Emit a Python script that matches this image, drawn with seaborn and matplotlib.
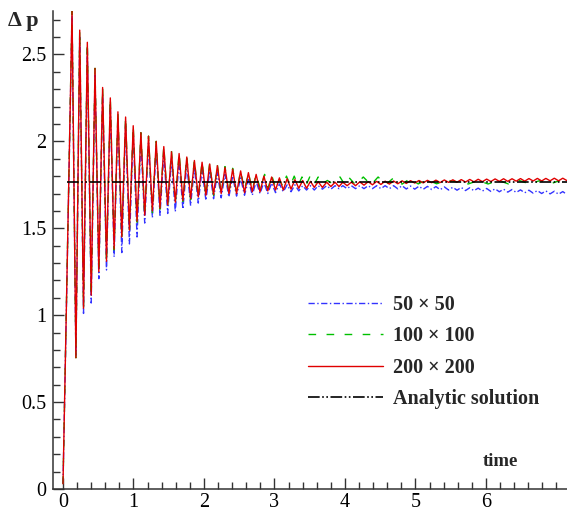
import numpy as np
import pandas as pd
import matplotlib
matplotlib.use("Agg")
import matplotlib.pyplot as plt
import seaborn as sns
from matplotlib.ticker import MultipleLocator

# ---------------- data ----------------
start_t = 0.0
start_v = 0.03

peak_t = [0.128, 0.237, 0.345, 0.454, 0.562, 0.671, 0.779, 0.888, 0.996, 1.105,
          1.213, 1.322, 1.430, 1.539, 1.647, 1.756, 1.864, 1.973, 2.081, 2.190,
          2.298, 2.407,
          2.520, 2.630, 2.740, 2.850, 2.960, 3.070, 3.180, 3.290, 3.400, 3.510, 3.620,
          3.740, 3.860, 3.970, 4.090, 4.210, 4.330, 4.450, 4.570, 4.690, 4.810,
          4.930, 5.050, 5.170, 5.290, 5.410, 5.530, 5.650, 5.770, 5.890, 6.010,
          6.130, 6.250, 6.370, 6.490, 6.610, 6.730, 6.850, 6.970, 7.090]
trough_t = [0.183, 0.291, 0.400, 0.508, 0.617, 0.725, 0.834, 0.942, 1.050, 1.159,
            1.268, 1.376, 1.485, 1.593, 1.701, 1.810, 1.919, 2.027, 2.136, 2.244,
            2.353, 2.462,
            2.575, 2.685, 2.795, 2.905, 3.015, 3.125, 3.235, 3.345, 3.455, 3.565, 3.680,
            3.800, 3.915, 4.030, 4.150, 4.270, 4.390, 4.510, 4.630, 4.750, 4.870,
            4.990, 5.110, 5.230, 5.350, 5.470, 5.590, 5.710, 5.830, 5.950, 6.070,
            6.190, 6.310, 6.430, 6.550, 6.670, 6.790, 6.910, 7.030, 7.150]

# 200 x 200
red_peak = [2.75, 2.64, 2.57, 2.42, 2.31, 2.25, 2.17, 2.14, 2.09, 2.05,
            2.03, 2.00, 1.97, 1.94, 1.93, 1.91, 1.89, 1.88, 1.87, 1.86,
            1.85, 1.84,
            1.83, 1.82, 1.81, 1.80, 1.795, 1.79, 1.785, 1.78, 1.775, 1.77, 1.768,
            1.765, 1.765, 1.765, 1.765, 1.767, 1.768, 1.770, 1.771, 1.772, 1.773,
            1.774, 1.775, 1.776, 1.777, 1.778, 1.779, 1.780, 1.781, 1.782, 1.783,
            1.784, 1.785, 1.785, 1.786, 1.786, 1.787, 1.787, 1.788, 1.788]
red_trough = [0.755, 1.04, 1.115, 1.25, 1.31, 1.38, 1.45, 1.49, 1.54, 1.575,
              1.60, 1.615, 1.635, 1.65, 1.66, 1.67, 1.68, 1.69, 1.695, 1.70,
              1.70, 1.70,
              1.705, 1.71, 1.71, 1.715, 1.72, 1.72, 1.725, 1.73, 1.73, 1.735, 1.735,
              1.74, 1.74, 1.745, 1.745, 1.748, 1.75, 1.752, 1.754, 1.756, 1.758,
              1.76, 1.761, 1.762, 1.763, 1.764, 1.765, 1.766, 1.767, 1.768, 1.769,
              1.77, 1.77, 1.771, 1.771, 1.772, 1.772, 1.773, 1.773, 1.774]

# 50 x 50
blue_peak = [2.72, 2.60, 2.53, 2.38, 2.27, 2.21, 2.13, 2.10, 2.05, 2.01,
             1.99, 1.96, 1.93, 1.90, 1.89, 1.87, 1.85, 1.84, 1.83, 1.82,
             1.81, 1.80,
             1.79, 1.78, 1.77, 1.765, 1.76, 1.755, 1.75, 1.75, 1.745, 1.745, 1.745,
             1.745, 1.745, 1.745, 1.745, 1.745, 1.745, 1.745, 1.745, 1.745, 1.745,
             1.743, 1.742, 1.741, 1.740, 1.738, 1.736, 1.735, 1.733, 1.731,
             1.729, 1.727, 1.725, 1.723, 1.721, 1.719, 1.717, 1.715, 1.713, 1.711]
blue_trough = [0.76, 1.01, 1.07, 1.21, 1.26, 1.335, 1.36, 1.41, 1.45, 1.53,
               1.56, 1.575, 1.585, 1.595, 1.61, 1.63, 1.645, 1.66, 1.67, 1.675,
               1.68, 1.685,
               1.69, 1.69, 1.70, 1.70, 1.705, 1.71, 1.71, 1.715, 1.72, 1.72, 1.725,
               1.725, 1.728, 1.728, 1.728, 1.728, 1.728, 1.728, 1.728, 1.727, 1.726,
               1.725, 1.724, 1.723, 1.722, 1.72, 1.719, 1.717, 1.716, 1.714,
               1.712, 1.71, 1.708, 1.706, 1.704, 1.702, 1.70, 1.698, 1.696, 1.694]

# 100 x 100 (early part on the shared extrema times, then its own times)
green_peak_early = [2.75, 2.64, 2.57, 2.42, 2.31, 2.25, 2.17, 2.14, 2.09, 2.05,
                    2.03, 2.00, 1.975, 1.945, 1.935, 1.915, 1.895, 1.885, 1.875,
                    1.865, 1.855, 1.845]
green_trough_early = [0.755, 1.04, 1.11, 1.245, 1.30, 1.375, 1.44, 1.485, 1.535,
                      1.57, 1.59, 1.61, 1.63, 1.645, 1.655, 1.665, 1.675, 1.685,
                      1.69, 1.695, 1.70, 1.705]
green_late_t = [2.52, 2.575, 2.63, 2.685, 2.74, 2.80, 2.86, 2.91, 2.96, 3.015,
                3.07, 3.12, 3.17, 3.225, 3.28, 3.335, 3.39, 3.445, 3.50, 3.56,
                3.62, 3.68, 3.75, 3.81, 3.87, 3.93, 3.99, 4.05, 4.15, 4.26,
                4.37, 4.47, 4.58, 4.69, 4.81, 4.92, 5.04, 5.16, 5.30, 5.46,
                5.75, 5.89, 6.03, 6.18, 6.32, 6.47, 6.62, 6.77, 6.91, 7.05, 7.15]
green_late_v = [1.83, 1.72, 1.82, 1.72, 1.81, 1.725, 1.81, 1.73, 1.805, 1.735,
                1.78, 1.74, 1.80, 1.745, 1.80, 1.745, 1.795, 1.745, 1.795, 1.75,
                1.795, 1.755, 1.775, 1.76, 1.78, 1.795, 1.755, 1.795, 1.75, 1.795,
                1.75, 1.795, 1.752, 1.79, 1.754, 1.785, 1.755, 1.78, 1.756, 1.776,
                1.755, 1.775, 1.755, 1.775, 1.755, 1.775, 1.755, 1.775, 1.755, 1.775, 1.765]

analytic_t = [0.06, 7.15]
analytic_v = [1.768, 1.768]

labels = ["50 \u00d7 50", "100 \u00d7 100", "200 \u00d7 200", "Analytic solution"]
x_ticks = [0, 1, 2, 3, 4, 5, 6]
y_ticks = [0, 0.5, 1, 1.5, 2, 2.5]
y_tick_labels = ["0", "0.5", "1", "1.5", "2", "2.5"]


def interleave(t0, v0, pt, pv, tt, tv):
    ts, vs = [t0], [v0]
    for a, b, c, d in zip(pt, pv, tt, tv):
        ts += [a, c]
        vs += [b, d]
    return ts, vs


red_t, red_v = interleave(start_t, start_v, peak_t, red_peak, trough_t, red_trough)
blue_t, blue_v = interleave(start_t, start_v, peak_t, blue_peak, trough_t, blue_trough)
n_early = len(green_peak_early)
g_t, g_v = interleave(start_t, start_v, peak_t[:n_early], green_peak_early,
                      trough_t[:n_early], green_trough_early)
green_t = g_t + green_late_t
green_v = g_v + green_late_v

# ---------------- style ----------------
sns.set_theme(style="ticks")
plt.rcParams["font.family"] = ["Liberation Serif", "DejaVu Serif"]

FS = 14.5
fig = plt.figure(figsize=(5.67, 5.11), dpi=100)
ax = fig.add_axes([53 / 567, 22 / 511, 514 / 567, 478 / 511])

BLUE = "#3333ff"
GREEN = "#00c000"
RED = "#e00000"

sns.lineplot(x=blue_t, y=blue_v, ax=ax, sort=False, estimator=None, color=BLUE,
             lw=1.0, linestyle=(0, (4.5, 1.8, 1.0, 1.8)), label=labels[0])
sns.lineplot(x=green_t, y=green_v, ax=ax, sort=False, estimator=None, color=GREEN,
             lw=1.0, linestyle=(0, (5.5, 7.5)), label=labels[1])
sns.lineplot(x=red_t, y=red_v, ax=ax, sort=False, estimator=None, color=RED,
             lw=1.0, linestyle="-", label=labels[2])
sns.lineplot(x=analytic_t, y=analytic_v, ax=ax, sort=False, estimator=None,
             color="black", lw=1.2, linestyle=(0, (7, 1.5, 1, 1.5, 1, 1.5)),
             label=labels[3])

ax.set_xlim(-0.142, 7.15)
ax.set_ylim(0, 2.75)
ax.set_xticks(x_ticks)
ax.set_xticklabels([str(v) for v in x_ticks])
ax.set_yticks(y_ticks)
ax.set_yticklabels(y_tick_labels)
ax.xaxis.set_minor_locator(MultipleLocator(0.2))
ax.yaxis.set_minor_locator(MultipleLocator(0.1))
ax.set_xlabel("")
ax.set_ylabel("")

for s in ["top", "right"]:
    ax.spines[s].set_visible(False)
for s in ["left", "bottom"]:
    ax.spines[s].set_color("#333333")
    ax.spines[s].set_linewidth(1.1)

ax.tick_params(axis="both", which="both", direction="in", colors="#333333",
               labelcolor="black", labelsize=FS)
ax.tick_params(axis="both", which="major", length=8, width=1.0)
ax.tick_params(axis="both", which="minor", length=5, width=1.0)
ax.tick_params(axis="x", which="major", pad=3)
ax.tick_params(axis="y", which="major", pad=5)

leg = ax.legend(loc="upper left", bbox_to_anchor=(308 / 567, 1 - 295 / 511),
                bbox_transform=fig.transFigure, frameon=False, borderpad=0,
                borderaxespad=0, handlelength=3.7, handletextpad=0.5,
                labelspacing=0.57, prop={"size": FS, "weight": "bold"})

fig.text(8 / 567, 1 - 26 / 511, "\u0394 p", fontsize=FS + 1.5, fontweight="bold",
         va="baseline", ha="left")
fig.text(483 / 567, 1 - 465.5 / 511, "time", fontsize=FS - 1, fontweight="bold",
         va="baseline", ha="left")

fig.savefig("out.png", dpi=100)
